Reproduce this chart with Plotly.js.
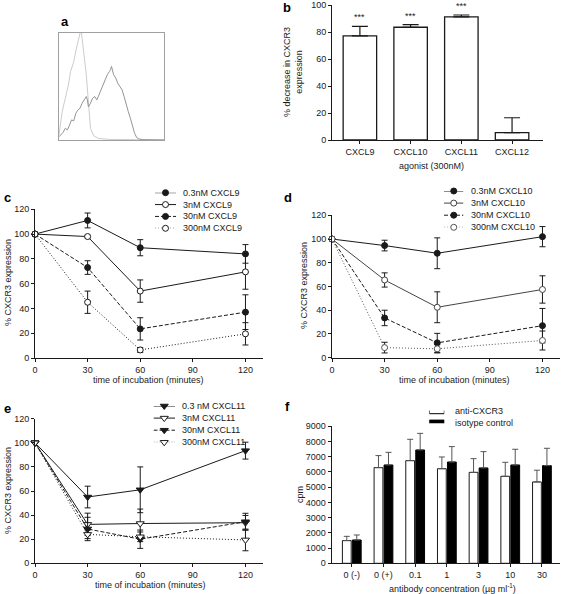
<!DOCTYPE html>
<html>
<head>
<meta charset="utf-8">
<script src="https://cdn.plot.ly/plotly-3.0.1.min.js"></script>
<style>html,body{margin:0;padding:0;background:#fff;}#chart{width:563px;height:594px;}</style>
</head>
<body>
<div id="chart"></div>
<script>
// ---------- DATA ----------
// panel a: flow cytometry histograms
const isoX = [0,1,3,6,9,11,14,16,18,20,21,22,24,26,27.5,29,30,33,37.5,47,60,80,100];
const isoCounts = [4.7,14,26.5,39,51.5,64,73,83,92,100,104,95,80,61,42,23,11,4,1.5,0.6,0.3,0.2,0.2];
const cxcr3X = [0,2,4,6,8,10,12,14,16,18,20,22,24,26,27,28,30,32,34,36,38,40,42,44,46,48,49,50,51,52,54,56,58,60,62,64,66,68,70,72,74,76,80,90,100];
const cxcr3Counts = [3,5.3,7.2,11,9.4,14,18.8,17.8,25,28,29.7,34.4,37.5,40.6,37.5,31,34.4,39,40.6,37.5,42,47,51.5,56,61,64,65.6,68.8,65.6,61,58,53,50,47,40.6,32.8,26.5,20.3,12.5,6.3,2.2,1,0.3,0,0];

// panel b
const agonists = ['CXCL9','CXCL10','CXCL11','CXCL12'];
const decreasePct = [77.3, 83.7, 91.4, 5.5];
const decreaseErr = [7.1, 2.0, 1.4, 11.0];
const signif = ['***','***','***',''];

// panels c-e: time courses
const timeMin = [0, 30, 60, 120];
const cNames = ['0.3nM CXCL9','3nM CXCL9','30nM CXCL9','300nM CXCL9'];
const c03 = [100, 111, 89, 84];   const c03Err = [0, 6, 6.5, 7.5];
const c3  = [100, 98, 54, 69.5];  const c3Err  = [0, 1, 9, 14];
const c30 = [100, 73, 23.5, 37];  const c30Err = [0, 5.5, 9, 14];
const c300= [100, 45, 6.5, 19.5]; const c300Err= [0, 9, 2, 9];

const dNames = ['0.3nM CXCL10','3nM CXCL10','30nM CXCL10','300nM CXCL10'];
const d03 = [100, 94.5, 88, 102];   const d03Err = [0, 4.5, 13, 8.5];
const d3  = [100, 65.5, 42.5, 57.5];const d3Err  = [0, 6, 13, 11.5];
const d30 = [100, 33.5, 12.5, 27];  const d30Err = [0, 6.5, 8, 14.5];
const d300= [100, 8.5, 7.5, 14.5];  const d300Err= [0, 4.5, 3.5, 8];

const eNames = ['0.3 nM CXCL11','3nM CXCL11','30nM CXCL11','300nM CXCL11'];
const e03 = [100, 55, 61, 93.5];    const e03Err = [0, 9, 19, 7];
const e3  = [100, 32.3, 33, 33.7];  const e3Err  = [0, 9.3, 12, 6];
const e30 = [100, 28.5, 20, 34.5];  const e30Err = [0, 9.7, 7.6, 7];
const e300= [100, 24, 22, 19.4];    const e300Err= [0, 3.5, 4, 9];

// panel f
const concLabels = ['0 (-)','0 (+)','0.1','1','3','10','30'];
const fNames = ['anti-CXCR3','isotype control'];
const antiCpm = [1490, 6280, 6740, 6210, 5970, 5710, 5340];
const antiErr = [280, 790, 1400, 770, 900, 920, 770];
const isoCpm  = [1530, 6455, 7440, 6650, 6260, 6455, 6410];
const isoErr  = [330, 830, 1090, 1010, 1070, 1030, 1140];

// ---------- HELPERS ----------
const W = 563, H = 594;
const px = v => v / W;
const py = v => 1 - v / H;
const FONT = 'Liberation Sans, Arial, sans-serif';
const INK = '#1a1a1a';

function axBase(extra) {
  return Object.assign({
    showline: true, linecolor: INK, linewidth: 1, ticks: 'outside', ticklen: 3,
    tickwidth: 1, tickcolor: INK, showgrid: false, zeroline: false,
    tickfont: {family: FONT, size: 9, color: INK}, fixedrange: true
  }, extra);
}
function hidden(extra) {
  return Object.assign({visible: false, showgrid: false, zeroline: false, fixedrange: true}, extra);
}

const styles = [
  {dash: 'solid', fill: INK, lcol: INK},
  {dash: 'solid', fill: '#fff', lcol: INK},
  {dash: '4px,2px', fill: INK, lcol: INK},
  {dash: '1px,2px', fill: '#fff', lcol: INK}
];

const traces = [];
const annotations = [];
const shapes = [];

// panel a
traces.push({x: isoX, y: isoCounts, xaxis: 'x', yaxis: 'y', mode: 'lines',
  line: {color: '#cccccc', width: 1}, showlegend: false, hoverinfo: 'skip'});
traces.push({x: cxcr3X, y: cxcr3Counts, xaxis: 'x', yaxis: 'y', mode: 'lines',
  line: {color: '#959595', width: 1}, showlegend: false, hoverinfo: 'skip'});

// panel b
traces.push({type: 'bar', x: agonists, y: decreasePct, xaxis: 'x2', yaxis: 'y2', width: 0.66,
  marker: {color: '#fff', line: {color: INK, width: 1.3}},
  error_y: {type: 'data', symmetric: false, array: decreaseErr, arrayminus: decreaseErr.map(() => 0),
    color: INK, thickness: 1.2, width: 8},
  showlegend: false, hoverinfo: 'skip'});
agonists.forEach((a, i) => {
  if (signif[i]) annotations.push({xref: 'x2', yref: 'y2', x: a, y: decreasePct[i] + decreaseErr[i],
    yanchor: 'bottom', yshift: 2, text: signif[i], showarrow: false,
    font: {family: FONT, size: 9, color: INK}});
});

// panels c-e
function timeCourse(series, errs, names, xa, ya, sym, lgx, lgy, extraCols) {
  series.forEach((s, i) => {
    const st = styles[i];
    const col = extraCols ? extraCols[i] : st.lcol;
    traces.push({x: timeMin, y: s, xaxis: xa, yaxis: ya, mode: 'lines+markers', cliponaxis: false,
      line: {color: col, width: 1, dash: st.dash},
      marker: {symbol: sym, size: sym === 'circle' ? 6 : 7, color: st.fill, line: {color: col, width: 1}},
      error_y: {type: 'data', array: errs[i], color: INK, thickness: 1, width: 3},
      showlegend: false, hoverinfo: 'skip'});
    // legend key
    traces.push({x: [0, 1], y: [-i, -i], xaxis: lgx, yaxis: lgy, mode: 'lines', cliponaxis: false,
      line: {color: col, width: 1, dash: st.dash}, showlegend: false, hoverinfo: 'skip'});
    traces.push({x: [0.5], y: [-i], xaxis: lgx, yaxis: lgy, mode: 'markers', cliponaxis: false,
      marker: {symbol: sym, size: sym === 'circle' ? 6 : 7, color: st.fill, line: {color: col, width: 1}},
      showlegend: false, hoverinfo: 'skip'});
    annotations.push({xref: lgx, yref: lgy, x: 1, y: -i, xanchor: 'left', yanchor: 'middle', xshift: 5,
      text: names[i], showarrow: false, font: {family: FONT, size: 9, color: INK}});
  });
}
timeCourse([c03, c3, c30, c300], [c03Err, c3Err, c30Err, c300Err], cNames, 'x3', 'y3', 'circle', 'x7', 'y7');
timeCourse([d03, d3, d30, d300], [d03Err, d3Err, d30Err, d300Err], dNames, 'x4', 'y4', 'circle', 'x8', 'y8',
  [INK, '#444', INK, '#555']);
timeCourse([e03, e3, e30, e300], [e03Err, e3Err, e30Err, e300Err], eNames, 'x5', 'y5', 'triangle-down', 'x9', 'y9');

// panel f
traces.push({type: 'bar', x: concLabels, y: antiCpm, xaxis: 'x6', yaxis: 'y6', name: fNames[0],
  marker: {color: '#fff', line: {color: INK, width: 1}},
  error_y: {type: 'data', symmetric: false, array: antiErr, arrayminus: antiErr.map(() => 0),
    color: '#555', thickness: 1, width: 3},
  showlegend: false, hoverinfo: 'skip'});
traces.push({type: 'bar', x: concLabels, y: isoCpm, xaxis: 'x6', yaxis: 'y6', name: fNames[1],
  marker: {color: '#000', line: {color: '#000', width: 1}},
  error_y: {type: 'data', symmetric: false, array: isoErr, arrayminus: isoErr.map(() => 0),
    color: '#555', thickness: 1, width: 3},
  showlegend: false, hoverinfo: 'skip'});
const fFill = ['#fff', '#000'];
fNames.forEach((n, i) => {
  shapes.push({type: 'rect', xref: 'x10', yref: 'y10', x0: 0, x1: 1, y0: -i - 0.25, y1: -i + 0.25,
    fillcolor: fFill[i], line: {color: '#000', width: 1}});
  annotations.push({xref: 'x10', yref: 'y10', x: 1, y: -i, xanchor: 'left', yanchor: 'middle', xshift: 9,
    text: n, showarrow: false, font: {family: FONT, size: 9, color: INK}});
});

// titles and panel labels
function txt(x, y, t, opt) {
  annotations.push(Object.assign({xref: 'paper', yref: 'paper', x: px(x), y: py(y), text: t, showarrow: false,
    xanchor: 'center', yanchor: 'middle', font: {family: FONT, size: 9, color: INK}}, opt || {}));
}
const panelLab = {family: FONT, size: 13, color: '#000'};
txt(59, 21, '<b>a</b>', {xanchor: 'left', font: panelLab});
txt(281, 7, '<b>b</b>', {xanchor: 'left', font: panelLab});
txt(2, 197, '<b>c</b>', {xanchor: 'left', font: panelLab});
txt(282, 197, '<b>d</b>', {xanchor: 'left', font: panelLab});
txt(2, 408, '<b>e</b>', {xanchor: 'left', font: panelLab});
txt(283, 406, '<b>f</b>', {xanchor: 'left', font: panelLab});

txt(293, 72, '% decrease in CXCR3<br>expression', {textangle: -90});
txt(431, 166, 'agonist (300nM)');
txt(8, 283, '% CXCR3 expression', {textangle: -90});
txt(148, 380, 'time of incubation (minutes)');
txt(304, 286, '% CXCR3 expression', {textangle: -90});
txt(455, 380, 'time of incubation (minutes)');
txt(8, 491, '% CXCR3 expression', {textangle: -90});
txt(150, 585, 'time of incubation (minutes)');
txt(300, 495, 'cpm', {textangle: -90});
txt(452, 588, 'antibody concentration (\u00b5g ml<sup>-1</sup>)');

const tcX = {range: [0, 130], tickvals: [0, 30, 60, 90, 120]};
const tcY = {range: [0, 120], dtick: 20, tick0: 0};

const layout = {
  width: W, height: H, margin: {l: 0, r: 0, t: 0, b: 0},
  paper_bgcolor: '#fff', plot_bgcolor: 'rgba(0,0,0,0)',
  showlegend: false, barmode: 'group', bargap: 0.37, bargroupgap: 0.12,
  font: {family: FONT, size: 9, color: INK},
  xaxis: {domain: [px(59), px(164)], range: [0, 100], showline: true, mirror: true, linecolor: '#a0a0a0',
    linewidth: 1, ticks: '', showticklabels: false, showgrid: false, zeroline: false, fixedrange: true},
  yaxis: {domain: [py(140), py(33)], range: [0, 100], showline: true, mirror: true, linecolor: '#a0a0a0',
    linewidth: 1, ticks: '', showticklabels: false, showgrid: false, zeroline: false, fixedrange: true},
  xaxis2: axBase({domain: [px(332), px(543)], type: 'category', range: [-0.55, 3.61], anchor: 'y2'}),
  yaxis2: axBase({domain: [py(140), py(5.3)], range: [0, 100], dtick: 20, anchor: 'x2'}),
  xaxis3: axBase(Object.assign({domain: [px(35), px(263)], anchor: 'y3'}, tcX)),
  yaxis3: axBase(Object.assign({domain: [py(358), py(209.3)], anchor: 'x3'}, tcY)),
  xaxis4: axBase(Object.assign({domain: [px(332), px(560)], anchor: 'y4'}, tcX)),
  yaxis4: axBase(Object.assign({domain: [py(357.7), py(215.3)], anchor: 'x4'}, tcY)),
  xaxis5: axBase(Object.assign({domain: [px(35), px(263)], anchor: 'y5'}, tcX)),
  yaxis5: axBase(Object.assign({domain: [py(563.3), py(418.7)], anchor: 'x5'}, tcY)),
  xaxis6: axBase({domain: [px(331.5), px(560)], type: 'category', range: [-0.64, 6.57], anchor: 'y6'}),
  yaxis6: axBase({domain: [py(563.3), py(426.2)], range: [0, 9000], dtick: 1000, anchor: 'x6'}),
  xaxis7: hidden({domain: [px(155), px(176)], range: [0, 1], anchor: 'y7'}),
  yaxis7: hidden({domain: [py(228.3), py(192.7)], range: [-3, 0], anchor: 'x7'}),
  xaxis8: hidden({domain: [px(444), px(463.5)], range: [0, 1], anchor: 'y8'}),
  yaxis8: hidden({domain: [py(227.3), py(191)], range: [-3, 0], anchor: 'x8'}),
  xaxis9: hidden({domain: [px(153.5), px(175)], range: [0, 1], anchor: 'y9'}),
  yaxis9: hidden({domain: [py(442.3), py(406)], range: [-3, 0], anchor: 'x9'}),
  xaxis10: hidden({domain: [px(429.3), px(444.3)], range: [0, 1], anchor: 'y10'}),
  yaxis10: hidden({domain: [py(423.3), py(410.5)], range: [-1, 0], anchor: 'x10'}),
  annotations: annotations,
  shapes: shapes
};

Plotly.newPlot('chart', traces, layout, {staticPlot: true, displayModeBar: false});
</script>
</body>
</html>
